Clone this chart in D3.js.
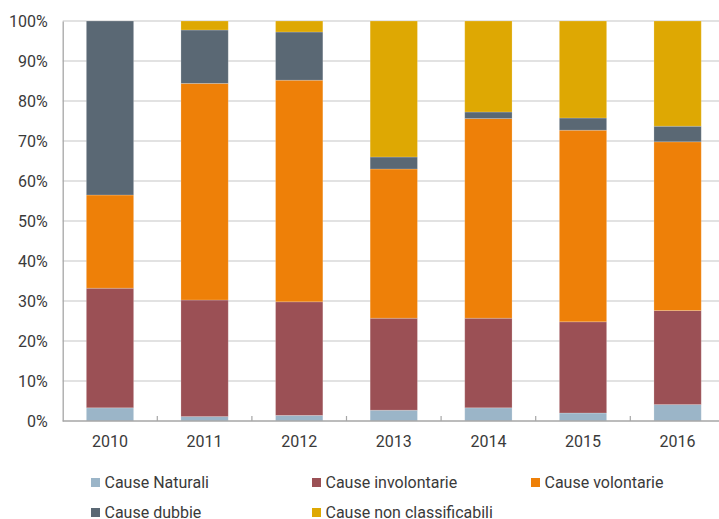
<!DOCTYPE html>
<html>
<head>
<meta charset="utf-8">
<script src="https://cdn.jsdelivr.net/npm/d3@7"></script>
<style>
  html, body { margin: 0; padding: 0; background: #fff; }
  svg { display: block; font-family: Roboto, "Noto Sans", sans-serif; }
</style>
</head>
<body>
<svg id="chart" width="719" height="519"></svg>
<script>
// Percent share of each cause category per year
const years = ["2010", "2011", "2012", "2013", "2014", "2015", "2016"];
const seriesNames = ["Cause Naturali", "Cause involontarie", "Cause volontarie", "Cause dubbie", "Cause non classificabili"];
const causeNaturali      = [3.3, 1.1, 1.4, 2.7, 3.3, 2.0, 4.1];
const causeInvolontarie  = [29.9, 29.15, 28.4, 23.0, 22.4, 22.8, 23.5];
const causeVolontarie    = [23.3, 54.15, 55.4, 37.3, 49.9, 47.9, 42.2];
const causeDubbie        = [43.5, 13.35, 12.05, 3.0, 1.65, 3.05, 3.9];
const causeNonClass      = [0, 2.25, 2.75, 34.0, 22.75, 24.25, 26.3];
const yTicks = [0, 10, 20, 30, 40, 50, 60, 70, 80, 90, 100];
const colors = ["#9bb5c8", "#9b5055", "#ee8008", "#5a6874", "#dea803"];

const seriesValues = [causeNaturali, causeInvolontarie, causeVolontarie, causeDubbie, causeNonClass];
const rows = years.map((y, i) => {
  const r = { year: y };
  seriesNames.forEach((s, k) => r[s] = seriesValues[k][i]);
  return r;
});

const svg = d3.select("#chart");
const margin = { left: 62.7, top: 21, bottom: 98 };
const plotW = 94.6 * years.length;
const plotBottom = 519 - margin.bottom;
const textColor = "#3a3a3a";
const fontSize = 16;
const fontWeight = 400;

const x = d3.scaleBand().domain(years).range([margin.left, margin.left + plotW]).paddingInner(0.5).paddingOuter(0.25);
const y = d3.scaleLinear().domain([0, 100]).range([plotBottom, margin.top]);

// gridlines
svg.append("g")
  .selectAll("line")
  .data(yTicks.filter(t => t > 0))
  .join("line")
  .attr("x1", margin.left)
  .attr("x2", 719)
  .attr("y1", d => y(d))
  .attr("y2", d => y(d))
  .attr("stroke", "#d9d9d9")
  .attr("stroke-width", 1.3);

// y axis labels
const yAxis = svg.append("g")
  .attr("transform", `translate(${margin.left},0)`)
  .call(d3.axisLeft(y).tickValues(yTicks).tickFormat(d => d + "%").tickSize(0).tickPadding(15));
yAxis.select(".domain").attr("stroke", "#a6a6a6").attr("stroke-width", 1.3);
yAxis.selectAll("text").attr("font-size", fontSize).attr("fill", textColor).attr("font-family", "Roboto").attr("font-weight", fontWeight);

// stacked bars
const stack = d3.stack().keys(seriesNames);
const layers = stack(rows);
svg.append("g")
  .selectAll("g")
  .data(layers)
  .join("g")
  .attr("fill", (d, i) => colors[i])
  .selectAll("rect")
  .data(d => d.filter(p => p[1] - p[0] > 0))
  .join("rect")
  .attr("x", d => x(d.data.year))
  .attr("width", x.bandwidth())
  .attr("y", d => y(d[1]))
  .attr("height", d => y(d[0]) - y(d[1]))
  .attr("stroke", "rgba(255,255,255,0.25)")
  .attr("stroke-width", 0.8);

// x axis with ticks at category boundaries
const step = x.step();
const boundaries = years.slice(1).map(yr => x(yr) - (step - x.bandwidth()) / 2);
const xAxisG = svg.append("g");
xAxisG.append("line")
  .attr("x1", margin.left).attr("x2", 719)
  .attr("y1", plotBottom).attr("y2", plotBottom)
  .attr("stroke", "#a6a6a6").attr("stroke-width", 1.3);
xAxisG.selectAll("line.tick")
  .data(boundaries)
  .join("line")
  .attr("class", "tick")
  .attr("x1", d => d).attr("x2", d => d)
  .attr("y1", plotBottom).attr("y2", plotBottom - 5)
  .attr("stroke", "#a6a6a6").attr("stroke-width", 1.2);
xAxisG.selectAll("text")
  .data(years)
  .join("text")
  .attr("x", d => x(d) + x.bandwidth() / 2)
  .attr("y", plotBottom + 25.5)
  .attr("text-anchor", "middle")
  .attr("font-size", fontSize)
  .attr("font-weight", fontWeight)
  .attr("fill", textColor)
  .text(d => d);

// legend
const legendPos = [
  { x: 91, y: 478 }, { x: 312, y: 478 }, { x: 531, y: 478 },
  { x: 91, y: 508 }, { x: 312, y: 508 }
];
const legend = svg.append("g")
  .selectAll("g")
  .data(seriesNames)
  .join("g")
  .attr("transform", (d, i) => `translate(${legendPos[i].x},${legendPos[i].y})`);
legend.append("rect")
  .attr("width", 9).attr("height", 9)
  .attr("fill", (d, i) => colors[i]);
legend.append("text")
  .attr("x", 13.5)
  .attr("y", 9.5)
  .attr("font-size", fontSize)
  .attr("font-weight", fontWeight)
  .attr("fill", textColor)
  .text(d => d);
</script>
</body>
</html>
